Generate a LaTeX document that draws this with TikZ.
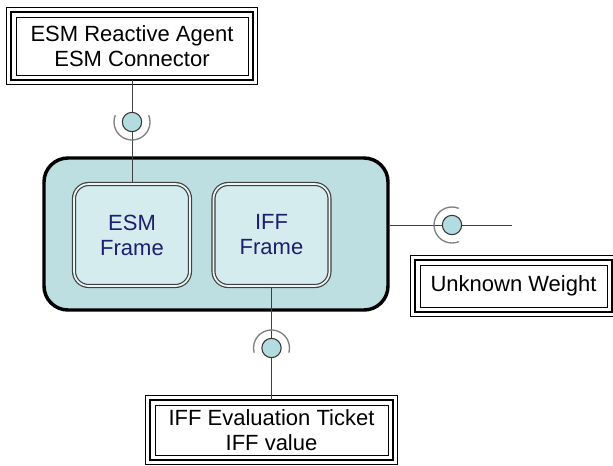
\documentclass[tikz,border=0pt]{standalone}
\usepackage{fontspec}
\setmainfont{Liberation Sans}

\definecolor{platfill}{HTML}{BDDFE2}
\definecolor{framefill}{HTML}{D4ECEE}
\definecolor{ballfill}{HTML}{B3DCE0}
\definecolor{framenavy}{HTML}{1E1E6E}

\tikzset{
  labelbox/.style={draw, line width=2pt, outer sep=0pt, inner sep=0pt, align=center,
    font=\fontsize{16.5}{18.75}\selectfont},
  platform/.style={draw, line width=2.6pt, rounded corners=18pt, fill=platfill,
    minimum width=258pt, minimum height=114pt},
  framebox/.style={draw=black!75, line width=0.9pt, double=white!50!framefill, double distance=1.3pt,
    rounded corners=11pt, fill=framefill, minimum width=87pt, minimum height=76.5pt,
    text=framenavy, align=center, font=\fontsize{16.5}{18.75}\selectfont},
  ball/.style={circle, draw=black!80, line width=0.8pt, fill=ballfill, minimum size=14.5pt, inner sep=0pt},
  socket/.style={draw=black!50, line width=1pt},
  wire/.style={draw=black!75, line width=0.7pt}
}

\begin{document}
\begin{tikzpicture}[x=0.75pt,y=-0.75pt]
\useasboundingbox (0,0) rectangle (613,465);

% platform and its frames
\node[platform] (platform) at (216,234) {};
\node[framebox] (esmframe) at (132,235) {ESM\\Frame};
\node[framebox] (iffframe) at (271.5,235) {IFF\\Frame};

% labels
\node[labelbox, minimum width=181.5pt, minimum height=51pt] (esmagent) at (132,46) {ESM Reactive Agent\\ESM Connector};
\node[labelbox, minimum width=147.75pt, minimum height=39pt] (weight) at (513.5,286) {Unknown Weight};
\node[labelbox, minimum width=182.25pt, minimum height=45pt] (ticket) at (271.5,430) {IFF Evaluation Ticket\\IFF value};
\foreach \n in {esmagent,weight,ticket}{
  \draw[line width=0.6pt] ([shift={(-3.4pt,3.4pt)}]\n.north west) rectangle ([shift={(3.4pt,-3.4pt)}]\n.south east);
  \draw[line width=0.6pt] ([shift={(3.8pt,-3.8pt)}]\n.north west) rectangle ([shift={(-3.8pt,3.8pt)}]\n.south east);
}

% ports
\node[ball] (esmball) at (132,122) {};
\node[ball] (weightball) at (452,225) {};
\node[ball] (iffball) at (271.5,348) {};
\coordinate (weightend) at (512,225);

\draw[wire] (esmagent) -- (esmball) -- (esmframe);
\draw[wire] (iffframe) -- (iffball) -- (ticket);
\draw[wire] (platform.east |- weightball) -- (weightball) -- (weightend);

\draw[socket] (esmball) ++(158:13.5pt) arc[start angle=158, end angle=382, radius=13.5pt];
\draw[socket] (weightball) ++(68:13.5pt) arc[start angle=68, end angle=292, radius=13.5pt];
\draw[socket] (iffball) ++(-15:13.5pt) arc[start angle=-15, end angle=195, radius=13.5pt];
\end{tikzpicture}
\end{document}
